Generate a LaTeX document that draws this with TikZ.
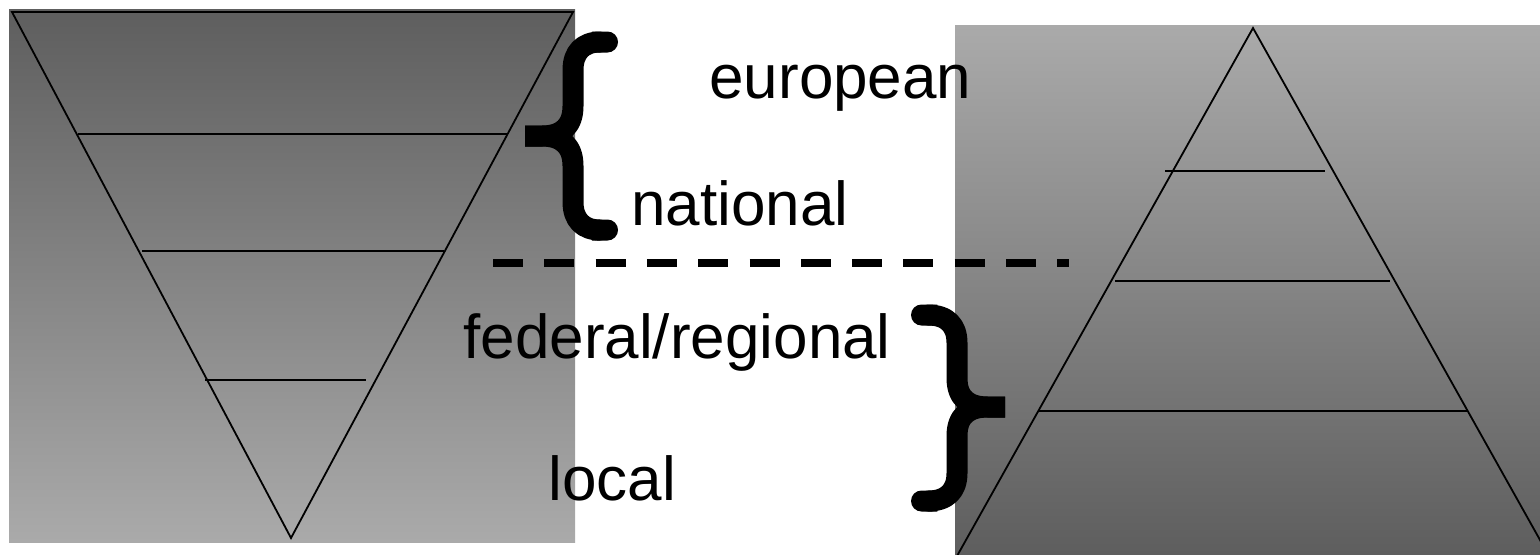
\documentclass[tikz,border=0pt]{standalone}
\usepackage{fontspec}
\setmainfont{Liberation Sans}
\usetikzlibrary{arrows.meta}
\definecolor{shadeDark}{HTML}{5E5E5E}
\definecolor{shadeLight}{HTML}{AAAAAA}
\tikzset{
  tri/.style={draw=black, line width=0.9pt, line join=miter},
  level/.style={draw=black, line width=0.8pt},
  brace/.style={draw=black, line width=10.5pt, line cap=butt, line join=round, {Round Cap}-},
  divider/.style={draw=black, line width=4pt, dash pattern=on 15pt off 10.65pt},
  lbl/.style={anchor=base west, inner sep=0pt, font=\fontsize{31pt}{36pt}\selectfont, text=black}
}
\begin{document}
\begin{tikzpicture}[x=0.5pt, y=-0.5pt]
  \useasboundingbox (0,0) rectangle (1540,554);
  \begin{scope}
    \clip (0,0) rectangle (1540,554);

    % left panel: inverted pyramid on a dark-to-light shading
    \shade[top color=shadeDark, bottom color=shadeLight] (9,9) rectangle (575,542);
    \draw[tri] (12,12) -- (573,12) -- (291,538) -- cycle;
    \draw[level] (78,134) -- (508,134);
    \draw[level] (142,251) -- (444,251);
    \draw[level] (205,380) -- (366,380);

    % right panel: upright pyramid on a light-to-dark shading
    \shade[top color=shadeLight, bottom color=shadeDark] (955,25) rectangle (1540,554);
    \draw[tri] (957,556) -- (1253,28) -- (1549,556);
    \draw[level] (1165,171) -- (1325,171);
    \draw[level] (1115,281) -- (1390,281);
    \draw[level] (1038,411) -- (1468,411);

    % dashed divider
    \coordinate (dashA) at (493,263);
    \coordinate (dashB) at (1069,263);
    \draw[divider] (dashA) -- (dashB);

    % left curly brace
    \draw[brace] (618,42) -- (600,42) .. controls (583,42) and (573,52) .. (573,70)
      -- (573,106) .. controls (573,126) and (562,136) .. (542,136) -- (525,136);
    \draw[brace] (618,230) -- (600,230) .. controls (583,230) and (573,220) .. (573,202)
      -- (573,166) .. controls (573,146) and (562,136) .. (542,136) -- (525,136);

    % right curly brace
    \draw[brace] (911,315) -- (928,315) .. controls (947,315) and (957,325) .. (957,343)
      -- (957,378) .. controls (957,398) and (968,407) .. (988,407) -- (1005,407);
    \draw[brace] (911,501) -- (928,501) .. controls (947,501) and (957,491) .. (957,473)
      -- (957,436) .. controls (957,416) and (968,407) .. (988,407) -- (1005,407);

    % level labels
    \node[lbl] (european) at (709,98) {european};
    \node[lbl] (national) at (631,225) {national};
    \node[lbl] (federal) at (463,358) {federal/regional};
    \node[lbl] (local) at (548,500) {local};
  \end{scope}
\end{tikzpicture}
\end{document}
